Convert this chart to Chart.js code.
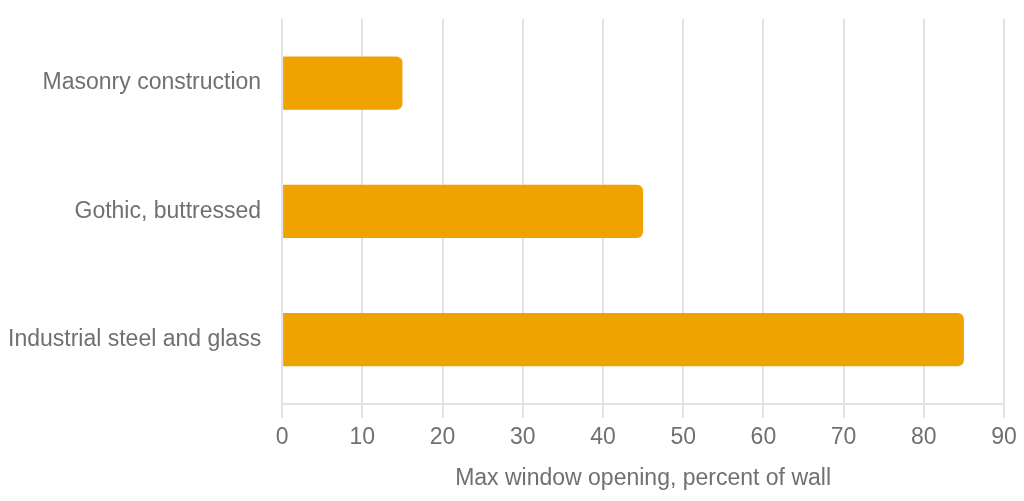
<!DOCTYPE html>
<html>
<head>
<meta charset="utf-8">
<script src="https://cdn.jsdelivr.net/npm/chart.js@4"></script>
<style>
    html, body { margin: 0; padding: 0; background: #fff; }
    #wrap { width: 1024px; height: 501px; position: relative; }
</style>
</head>
<body>
<div id="wrap"><canvas id="windowChart"></canvas></div>
<script>
const categories = ['Masonry construction', 'Gothic, buttressed', 'Industrial steel and glass'];
const openingPercent = [15, 45, 85];
const xTicks = [0, 10, 20, 30, 40, 50, 60, 70, 80, 90];
const axisTitle = 'Max window opening, percent of wall';

document.addEventListener('DOMContentLoaded', () => {
    const ctx = document.getElementById('windowChart');
    const gridColor = '#e3e3e3';
    const textColor = '#707070';
    const font = { family: "'Liberation Sans', Arial, sans-serif", size: 23 };

    new Chart(ctx, {
        type: 'bar',
        data: {
            labels: categories,
            datasets: [{
                label: axisTitle,
                data: openingPercent,
                backgroundColor: '#eea300',
                borderWidth: 0,
                borderRadius: 6,
                borderSkipped: 'start',
                categoryPercentage: 0.8,
                barPercentage: 0.52,
            }]
        },
        options: {
            indexAxis: 'y',
            responsive: true,
            maintainAspectRatio: false,
            animation: false,
            layout: {
                padding: { top: 19, right: 20, left: 8, bottom: 9 }
            },
            scales: {
                x: {
                    min: xTicks[0],
                    max: xTicks[xTicks.length - 1],
                    afterBuildTicks: (axis) => {
                        axis.ticks = xTicks.map(v => ({ value: v }));
                    },
                    grid: {
                        color: gridColor,
                        lineWidth: 2,
                        tickLength: 14,
                    },
                    border: { color: gridColor, width: 2 },
                    ticks: {
                        color: textColor,
                        font: font,
                        padding: 6,
                    },
                    title: {
                        display: true,
                        text: axisTitle,
                        color: textColor,
                        font: font,
                        padding: { top: 7, bottom: 0 },
                    }
                },
                y: {
                    // hidden grid, tick length used only as gap before labels
                    grid: { display: false, drawTicks: true, tickLength: 21 },
                    border: { display: false },
                    ticks: {
                        color: textColor,
                        font: font,
                        padding: 0,
                    }
                }
            },
            plugins: {
                legend: { display: false },
                tooltip: { enabled: false }
            }
        }
    });
});
</script>
</body>
</html>
